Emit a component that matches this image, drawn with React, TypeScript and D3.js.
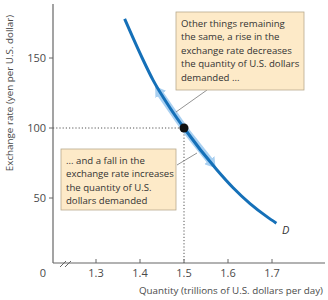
import React from 'react';
import * as d3 from 'd3';

// demand curve for U.S. dollars
const quantity = [1.365, 1.405, 1.43, 1.468, 1.5, 1.575, 1.611, 1.65, 1.689, 1.71];
const rate = [178, 150, 134, 114.5, 100, 70, 57.5, 46, 36.5, 32];

// light arrows running along the curve on both sides of the point
const arrowQuantity = [1.446, 1.468, 1.5, 1.53, 1.559];
const arrowRate = [124.5, 114.5, 100, 88, 76.5];

const pointQuantity = 1.5;
const pointRate = 100;

const xTicks = [1.3, 1.4, 1.5, 1.6, 1.7];
const yTicks = [50, 100, 150];

const topNote = [
  'Other things remaining',
  'the same, a rise in the',
  'exchange rate decreases',
  'the quantity of U.S. dollars',
  'demanded ...',
];
const bottomNote = [
  '... and a fall in the',
  'exchange rate increases',
  'the quantity of U.S.',
  'dollars demanded',
];

const W = 328;
const H = 300;
const axisX = 53;
const axisY = 263;
const axisTop = 4;
const axisRight = 325;
const font = '"Open Sans", Lato, sans-serif';
const textColor = '#4a4a4a';

const x = d3.scaleLinear().domain([1.3, 1.7]).range([96, 272]);
const y = d3.scaleLinear().domain([50, 150]).range([198, 58]);

const line = d3
  .line<number>()
  .x((_, i) => x(quantity[i]))
  .y((_, i) => y(rate[i]))
  .curve(d3.curveMonotoneX);

const arrowLine = d3
  .line<number>()
  .x((_, i) => x(arrowQuantity[i]))
  .y((_, i) => y(arrowRate[i]))
  .curve(d3.curveMonotoneX);

const Note: React.FC<{ x: number; y: number; w: number; h: number; lines: string[] }> = ({ x, y, w, h, lines }) => (
  <g>
    <rect x={x} y={y} width={w} height={h} fill="#fdeac8" stroke="#b8aa8e" strokeWidth={0.8} />
    {lines.map((t, i) => (
      <text key={i} x={x + 5} y={y + 14.5 + i * 13.5} fontSize={9.6} fill="#333" fontFamily={font}>
        {t}
      </text>
    ))}
  </g>
);

const App: React.FC = () => {
  const px = x(pointQuantity);
  const py = y(pointRate);
  return (
    <svg width={W} height={H} style={{ position: 'absolute', left: 0, top: 0, background: '#fff' }}>
      <defs>
        <marker
          id="head"
          viewBox="0 0 10 13"
          refX={1}
          refY={6.5}
          markerWidth={10}
          markerHeight={13}
          markerUnits="userSpaceOnUse"
          orient="auto-start-reverse"
        >
          <path d="M0,0 L10,6.5 L0,13 Z" fill="#a9d0f1" />
        </marker>
      </defs>

      {/* guide lines to the point */}
      <line x1={axisX} x2={px} y1={py} y2={py} stroke="#555" strokeWidth={1} strokeDasharray="1.2,2" />
      <line x1={px} x2={px} y1={py} y2={axisY} stroke="#555" strokeWidth={1} strokeDasharray="1.2,2" />

      {/* axes */}
      <line x1={axisX} x2={axisX} y1={axisTop} y2={axisY} stroke="#666" strokeWidth={1.2} />
      <line x1={axisX} x2={axisRight} y1={axisY} y2={axisY} stroke="#666" strokeWidth={1.2} />
      <line x1={60} y1={267} x2={66} y2={261} stroke="#666" strokeWidth={1} />
      <line x1={65} y1={267} x2={71} y2={261} stroke="#666" strokeWidth={1} />

      {yTicks.map((t) => (
        <g key={t}>
          <line x1={axisX - 4} x2={axisX} y1={y(t)} y2={y(t)} stroke="#666" strokeWidth={1} />
          <text x={46} y={y(t) + 4} textAnchor="end" fontSize={11} fill={textColor} fontFamily={font}>
            {t}
          </text>
        </g>
      ))}
      {xTicks.map((t) => (
        <g key={t}>
          <line x1={x(t)} x2={x(t)} y1={axisY - 4} y2={axisY} stroke="#666" strokeWidth={1} />
          <text x={x(t)} y={277} textAnchor="middle" fontSize={11} fill={textColor} fontFamily={font}>
            {t.toFixed(1)}
          </text>
        </g>
      ))}
      <text x={43} y={277} textAnchor="middle" fontSize={11} fill={textColor} fontFamily={font}>
        0
      </text>

      <text
        transform={`translate(13,93) rotate(-90)`}
        textAnchor="middle"
        fontSize={9.8}
        fill={textColor}
        fontFamily={font}
      >
        Exchange rate (yen per U.S. dollar)
      </text>
      <text x={323} y={294} textAnchor="end" fontSize={9.8} fill={textColor} fontFamily={font}>
        Quantity (trillions of U.S. dollars per day)
      </text>

      {/* movement arrows along the curve */}
      <path
        d={arrowLine(arrowQuantity) ?? ''}
        fill="none"
        stroke="#a9d0f1"
        strokeWidth={7}
        markerStart="url(#head)"
        markerEnd="url(#head)"
      />

      {/* demand curve */}
      <path d={line(quantity) ?? ''} fill="none" stroke="#1570b8" strokeWidth={3} />
      <text x={282} y={234} fontSize={11} fontStyle="italic" fill="#333" fontFamily={font}>
        D
      </text>

      <circle cx={px} cy={py} r={4.5} fill="#111" />

      {/* notes */}
      <line x1={207} y1={90} x2={176} y2={112} stroke="#777" strokeWidth={0.8} />
      <line x1={177} y1={165} x2={197} y2={153} stroke="#777" strokeWidth={0.8} />
      <Note x={176} y={12} w={128} h={78} lines={topNote} />
      <Note x={61} y={149} w={115} h={61} lines={bottomNote} />
    </svg>
  );
};

export default App;
